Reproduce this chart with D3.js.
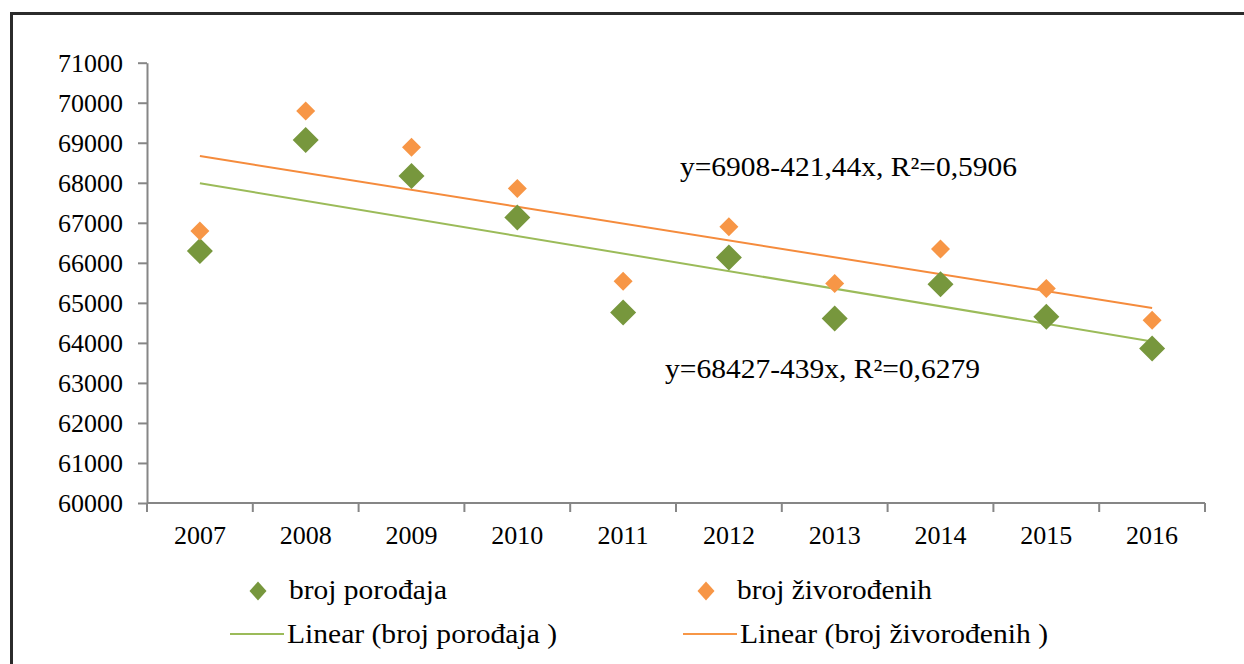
<!DOCTYPE html>
<html>
<head>
<meta charset="utf-8">
<script src="https://cdn.jsdelivr.net/npm/d3@7"></script>
<style>
  body { margin: 0; background: #fff; }
  svg { display: block; }
  svg text { font-family: "Liberation Serif", "Times New Roman", serif; fill: #000; }
  .axis path, .axis line { stroke: #868686; stroke-width: 2; }
</style>
</head>
<body>
<div id="chart"></div>
<script>
// Data
const years = ['2007', '2008', '2009', '2010', '2011', '2012', '2013', '2014', '2015', '2016'];
const brojPorodjaja = [66293, 69068, 68168, 67135, 64760, 66135, 64610, 65468, 64650, 63860];
const brojZivorodjenih = [66793, 69793, 68885, 67860, 65543, 66900, 65485, 66343, 65360, 64568];

// Trend lines: values at first and last year (from the printed equations)
const trendPorodjaja = [67988, 64037];
const trendZivorodjenih = [68667, 64874];

const yTicks = [60000, 61000, 62000, 63000, 64000, 65000, 66000, 67000, 68000, 69000, 70000, 71000];

const eqPorodjaja = 'y=68427-439x, R²=0,6279';
const eqZivorodjenih = 'y=6908-421,44x, R²=0,5906';

const legendItems = [
  { label: 'broj porođaja', type: 'marker', color: '#77973d', x: 258, y: 591, w: 158 },
  { label: 'broj živorođenih', type: 'marker', color: '#f79646', x: 706, y: 591, w: 195 },
  { label: 'Linear (broj porođaja )', type: 'line', color: '#9bbb59', x: 258, y: 634, w: 270 },
  { label: 'Linear (broj živorođenih )', type: 'line', color: '#f79646', x: 711, y: 634, w: 308 }
];

const width = 1244;
const height = 664;
const plot = { left: 147, right: 1205, top: 62.7, bottom: 503 };

const green = '#77973d';
const orange = '#f79646';
const greenLine = '#9bbb59';
const orangeLine = '#f58b3c';
const serif = '"Liberation Serif", "Times New Roman", serif';

const svg = d3.select('#chart')
  .append('svg')
  .attr('width', width)
  .attr('height', height);

// Outer frame (only top and left edges are in view)
svg.append('path')
  .attr('d', `M11.5,${height} V13.5 H${width}`)
  .attr('fill', 'none')
  .attr('stroke', '#2b2b2b')
  .attr('stroke-width', 3);

const xScale = d3.scaleBand()
  .domain(years)
  .range([plot.left, plot.right]);

const yScale = d3.scaleLinear()
  .domain([60000, 71000])
  .range([plot.bottom, plot.top]);

const cx = d => xScale(d) + xScale.bandwidth() / 2;

// Axes
const yAxis = svg.append('g')
  .attr('class', 'axis')
  .attr('transform', `translate(${plot.left},0)`)
  .attr('font-family', serif)
  .call(d3.axisLeft(yScale)
    .tickValues(yTicks)
    .tickFormat(d3.format('d'))
    .tickSize(9)
    .tickSizeOuter(0)
    .tickPadding(15));

yAxis.selectAll('text')
  .attr('font-size', 26)
  .attr('fill', '#000');

// x axis: ticks at category boundaries
const boundaries = years.map(y => xScale(y)).concat([plot.right]);
const xAxis = svg.append('g').attr('class', 'axis');
xAxis.append('line')
  .attr('x1', plot.left).attr('x2', plot.right)
  .attr('y1', plot.bottom).attr('y2', plot.bottom);
xAxis.selectAll('line.tick')
  .data(boundaries)
  .join('line')
  .attr('class', 'tick')
  .attr('x1', d => d).attr('x2', d => d)
  .attr('y1', plot.bottom).attr('y2', plot.bottom + 9);
xAxis.selectAll('text')
  .data(years)
  .join('text')
  .attr('x', d => cx(d))
  .attr('y', 544)
  .attr('text-anchor', 'middle')
  .attr('font-size', 26)
  .text(d => d);

// Trend lines
const line = d3.line()
  .x(d => cx(d[0]))
  .y(d => yScale(d[1]));

svg.append('path')
  .datum([[years[0], trendPorodjaja[0]], [years[years.length - 1], trendPorodjaja[1]]])
  .attr('d', line)
  .attr('fill', 'none')
  .attr('stroke', greenLine)
  .attr('stroke-width', 2);

svg.append('path')
  .datum([[years[0], trendZivorodjenih[0]], [years[years.length - 1], trendZivorodjenih[1]]])
  .attr('d', line)
  .attr('fill', 'none')
  .attr('stroke', orangeLine)
  .attr('stroke-width', 2);

// Diamond marker path
const diamond = (r, ry) => `M0,${-(ry || r)} L${r},0 L0,${ry || r} L${-r},0 Z`;

svg.append('g')
  .selectAll('path')
  .data(years.map((y, i) => [y, brojPorodjaja[i]]))
  .join('path')
  .attr('transform', d => `translate(${cx(d[0])},${yScale(d[1])})`)
  .attr('d', diamond(13))
  .attr('fill', green);

svg.append('g')
  .selectAll('path')
  .data(years.map((y, i) => [y, brojZivorodjenih[i]]))
  .join('path')
  .attr('transform', d => `translate(${cx(d[0])},${yScale(d[1])})`)
  .attr('d', diamond(9.5))
  .attr('fill', orange);

// Equation labels (source text is slightly stretched, so fit its width)
svg.append('text')
  .attr('x', 680).attr('y', 176)
  .attr('font-size', 27)
  .attr('textLength', 337)
  .attr('lengthAdjust', 'spacingAndGlyphs')
  .text(eqZivorodjenih);

svg.append('text')
  .attr('x', 665).attr('y', 378)
  .attr('font-size', 27)
  .attr('textLength', 315)
  .attr('lengthAdjust', 'spacingAndGlyphs')
  .text(eqPorodjaja);

// Legend
const legend = svg.append('g');
legendItems.forEach(item => {
  const g = legend.append('g');
  let tx, ty;
  if (item.type === 'marker') {
    g.append('path')
      .attr('transform', `translate(${item.x},${item.y})`)
      .attr('d', diamond(8.5, 9.5))
      .attr('fill', item.color);
    tx = item.x + 31; ty = item.y + 8;
  } else {
    g.append('line')
      .attr('x1', item.x - 28).attr('x2', item.x + 26)
      .attr('y1', item.y).attr('y2', item.y)
      .attr('stroke', item.color)
      .attr('stroke-width', 2);
    tx = item.x + 29; ty = item.y + 9;
  }
  g.append('text')
    .attr('x', tx).attr('y', ty)
    .attr('font-size', 27)
    .attr('textLength', item.w)
    .attr('lengthAdjust', 'spacingAndGlyphs')
    .text(item.label);
});
</script>
</body>
</html>
